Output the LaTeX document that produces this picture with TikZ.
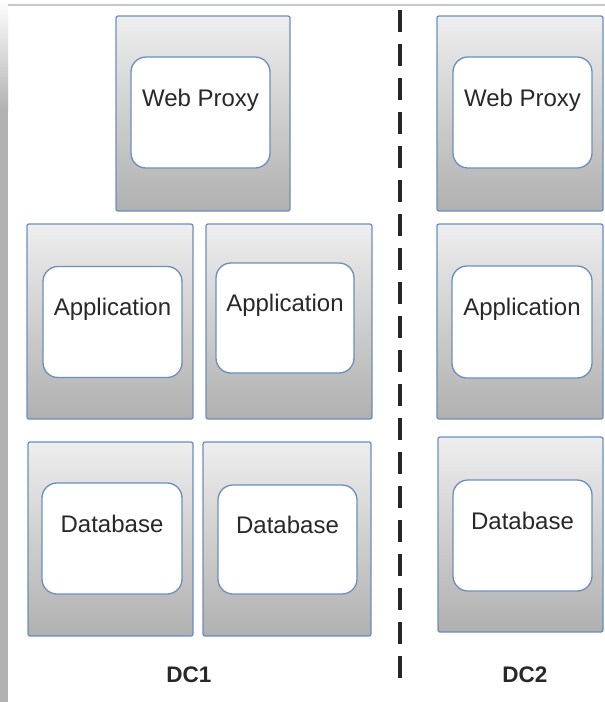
\documentclass[tikz,border=0pt]{standalone}
\usepackage{fontspec}
\setmainfont{Liberation Sans}
\usepackage{xcolor}
\usepackage{tikz}
\usetikzlibrary{positioning,calc}
\definecolor{boxblue}{RGB}{108,142,191}
\definecolor{boxtop}{RGB}{238,238,238}
\definecolor{boxbot}{RGB}{176,176,176}
\definecolor{stripgray}{RGB}{178,178,178}
\definecolor{framegray}{RGB}{200,200,200}
\definecolor{txtgray}{RGB}{40,40,40}

\begin{document}
\begin{tikzpicture}[x=1pt, y=-1pt,
  server/.style={rectangle, draw=boxblue, line width=1.3pt, rounded corners=2pt, top color=boxtop, bottom color=boxbot, minimum width=166pt, minimum height=195pt, inner sep=0pt},
  role/.style={rectangle, draw=boxblue, line width=1.3pt, rounded corners=15pt, fill=white, minimum width=139pt, minimum height=111pt, inner sep=0pt, text=txtgray, font=\fontsize{24}{27}\selectfont, text depth=30pt},
  dclabel/.style={font=\bfseries\fontsize{22.5}{25}\selectfont, text=txtgray},
  divider/.style={line width=3.5pt, draw=black!85, dash pattern=on 22pt off 12pt}
]
  \useasboundingbox (0,0) rectangle (605,702);
  \fill[white] (0,0) rectangle (605,702);
  \shade[top color=white, bottom color=stripgray] (0,0) rectangle (8,110);
  \fill[stripgray] (0,110) rectangle (8,702);
  \draw[framegray, line width=2pt] (8,5) -- (605,5);

  \node[server, minimum width=174pt] (wpbox1) at (203,113.5) {};
  \node[role] (wp1) at (200.5,112.5) {Web Proxy};

  \node[server] (appbox1) at (110,321.5) {};
  \node[role] (app1) at (112.5,322) {Application};
  \node[server] (appbox2) at (289,321.5) {};
  \node[role, minimum width=138pt, minimum height=110pt] (app2) at (285,318) {Application};

  \node[server, minimum width=165pt, minimum height=194pt] (dbbox1) at (110.5,539) {};
  \node[role, minimum width=140pt] (db1) at (112,538.5) {Database};
  \node[server, minimum width=168pt, minimum height=194pt] (dbbox2) at (287,539) {};
  \node[role, minimum width=139pt, minimum height=109pt] (db2) at (287.5,539.5) {Database};

  \node[server] (wpbox3) at (520,113.5) {};
  \node[role] (wp3) at (522.5,112.5) {Web Proxy};
  \node[server] (appbox3) at (520,321.5) {};
  \node[role, minimum width=140pt, minimum height=112pt] (app3) at (522,322) {Application};
  \node[server, minimum width=165pt] (dbbox3) at (520.5,534.5) {};
  \node[role] (db3) at (522.5,535.5) {Database};

  \coordinate (divtop) at (400,10);
  \coordinate (divbot) at (400,682);
  \draw[divider] (divtop) -- (divbot);

  \node[dclabel] (dc1) at (189,675) {DC1};
  \node[dclabel] (dc2) at (525,675) {DC2};
\end{tikzpicture}
\end{document}
